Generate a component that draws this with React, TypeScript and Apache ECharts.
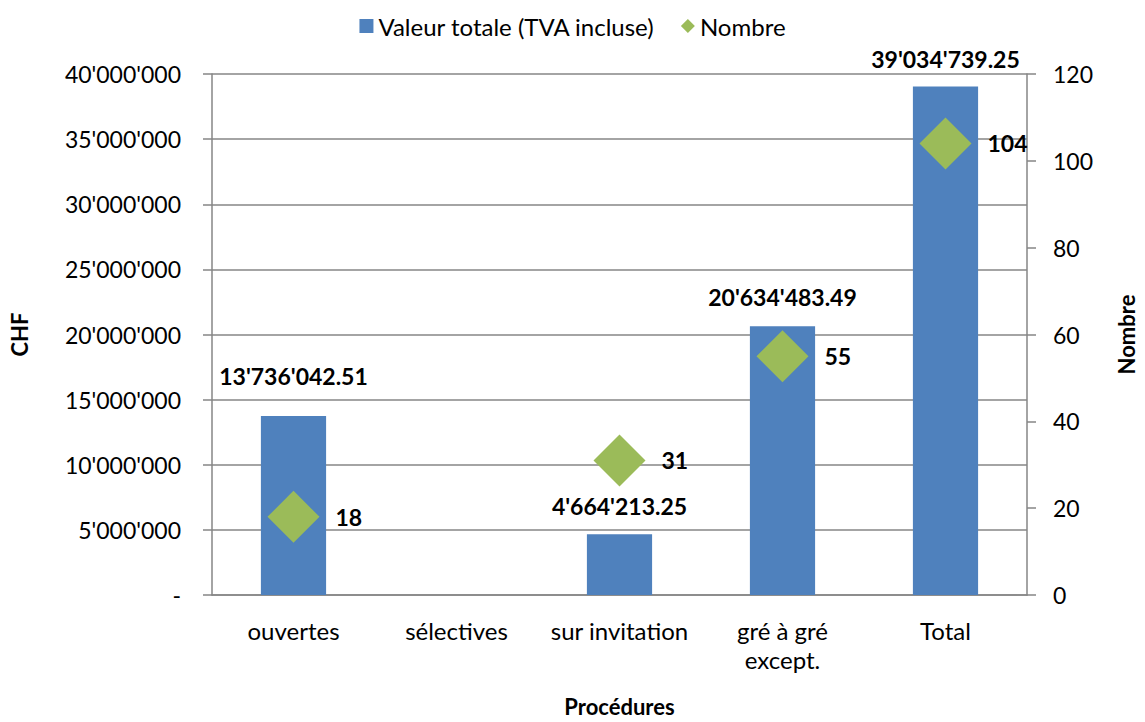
import React, { useEffect, useRef } from "react";
import * as echarts from "echarts";

const categories = ["ouvertes", "sélectives", "sur invitation", "gré à gré\nexcept.", "Total"];
const valeurTotale: (number | null)[] = [13736042.51, null, 4664213.25, 20634483.49, 39034739.25];
const nombre: (number | null)[] = [18, null, 31, 55, 104];
const barLabelDistance = [29, 18, 17, 18, 16];

const FONT = "Lato, 'Open Sans', sans-serif";

function fmtCHF(v: number, decimals: number): string {
  if (v === 0) return "-";
  const fixed = v.toFixed(decimals);
  const [intPart, dec] = fixed.split(".");
  const withSep = intPart.replace(/\B(?=(\d{3})+(?!\d))/g, "'");
  return dec ? withSep + "." + dec : withSep;
}

export default function App() {
  const ref = useRef<HTMLDivElement>(null);
  useEffect(() => {
    document.body.style.margin = "0";
    document.body.style.overflow = "hidden";
    if (!ref.current) return;
    const chart = echarts.init(ref.current, undefined, { renderer: "svg" });
    const axisLineStyle = { color: "#868686", width: 1.5 };
    chart.setOption({
      animation: false,
      textStyle: { fontFamily: FONT },
      legend: {
        top: 9,
        left: "center",
        itemWidth: 14,
        itemHeight: 14,
        itemGap: 26,
        textStyle: { fontSize: 24, color: "#000", fontFamily: FONT },
        data: [
          { name: "Valeur totale (TVA incluse)", icon: "rect" },
          { name: "Nombre", icon: "diamond" },
        ],
      },
      grid: { left: 202, right: 104, top: 74, bottom: 119 },
      xAxis: {
        type: "category",
        data: categories,
        name: "Procédures",
        nameLocation: "middle",
        nameGap: 100,
        nameTextStyle: { fontSize: 22, fontWeight: "bold", color: "#000", fontFamily: FONT },
        axisLine: { lineStyle: axisLineStyle },
        axisTick: { show: false },
        axisLabel: { interval: 0, fontSize: 24, color: "#000", margin: 21, lineHeight: 29, fontFamily: FONT },
      },
      yAxis: [
        {
          type: "value",
          min: 0,
          max: 40000000,
          interval: 5000000,
          name: "CHF",
          nameLocation: "middle",
          nameGap: 182,
          nameRotate: 90,
          nameTextStyle: { fontSize: 22, fontWeight: "bold", color: "#000", fontFamily: FONT },
          axisLine: { show: true, lineStyle: axisLineStyle },
          axisTick: { show: true, length: 9, lineStyle: axisLineStyle },
          splitLine: { lineStyle: { color: "#868686", width: 1.5 } },
          axisLabel: {
            fontSize: 23,
            color: "#000",
            margin: 31,
            fontFamily: FONT,
            formatter: (v: number) => fmtCHF(v, 0),
          },
        },
        {
          type: "value",
          min: 0,
          max: 120,
          interval: 20,
          name: "Nombre",
          nameLocation: "middle",
          nameGap: 88,
          nameRotate: 90,
          nameTextStyle: { fontSize: 22, fontWeight: "bold", color: "#000", fontFamily: FONT },
          axisLine: { show: true, lineStyle: axisLineStyle },
          axisTick: { show: true, length: 9, lineStyle: axisLineStyle },
          splitLine: { show: false },
          axisLabel: { fontSize: 23, color: "#000", margin: 26, fontFamily: FONT },
        },
      ],
      series: [
        {
          name: "Valeur totale (TVA incluse)",
          type: "bar",
          yAxisIndex: 0,
          barWidth: "40%",
          itemStyle: { color: "#4F81BD" },
          data: valeurTotale.map((v, i) => ({
            value: v,
            label: {
              show: v !== null,
              position: "top",
              distance: barLabelDistance[i],
              fontSize: 23,
              fontWeight: "bold",
              color: "#000",
              fontFamily: FONT,
              formatter: (p: any) => fmtCHF(p.value, 2),
            },
          })),
        },
        {
          name: "Nombre",
          type: "scatter",
          yAxisIndex: 1,
          symbol: "diamond",
          symbolSize: 52,
          itemStyle: { color: "#9BBB59", opacity: 1 },
          label: {
            show: true,
            position: "right",
            distance: 16,
            fontSize: 23,
            fontWeight: "bold",
            color: "#000",
            fontFamily: FONT,
            formatter: (p: any) => String(p.value[1] ?? p.value),
          },
          data: nombre.map((v, i) => (v === null ? null : [i, v])).filter((d) => d !== null),
        },
      ],
    });
    return () => chart.dispose();
  }, []);
  return <div ref={ref} style={{ width: 1145, height: 722 }} />;
}
